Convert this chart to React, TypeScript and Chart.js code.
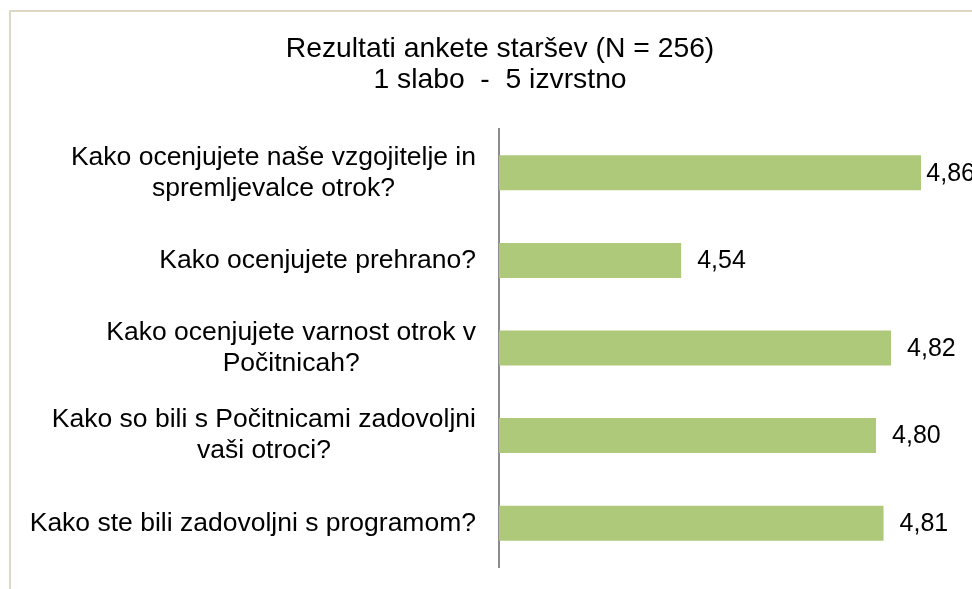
import React, { useEffect, useRef } from "react";
import { Chart, registerables } from "chart.js";

Chart.register(...registerables);

const categories: (string | string[])[] = [
  ["Kako ocenjujete naše vzgojitelje in", "spremljevalce otrok?"],
  "Kako ocenjujete prehrano?",
  ["Kako ocenjujete varnost otrok v", "Počitnicah?"],
  ["Kako so bili s Počitnicami zadovoljni", "vaši otroci?"],
  "Kako ste bili zadovoljni s programom?",
];
const scores = [4.86, 4.54, 4.82, 4.8, 4.81];
const titleLines = ["Rezultati ankete staršev (N = 256)", "1 slabo  -  5 izvrstno"];
const axisMin = 4.297;
const axisMax = 4.9;

const FONT = '"Liberation Sans", Arial, Helvetica, sans-serif';
const BAR_COLOR = "#AFC97B";
const FRAME_COLOR = "#DDD8C4";
const AXIS_COLOR = "#8C8C8C";

const framePlugin = {
  id: "frame",
  beforeDraw(chart: any) {
    const { ctx } = chart;
    ctx.save();
    ctx.fillStyle = "#ffffff";
    ctx.fillRect(0, 0, chart.width, chart.height);
    ctx.strokeStyle = FRAME_COLOR;
    ctx.lineWidth = 2;
    ctx.beginPath();
    ctx.moveTo(10, chart.height);
    ctx.lineTo(10, 11);
    ctx.lineTo(chart.width, 11);
    ctx.stroke();
    ctx.restore();
  },
};

const labelsPlugin = {
  id: "catLabels",
  afterDraw(chart: any) {
    const { ctx, chartArea } = chart;
    const yScale = chart.scales.y;
    ctx.save();
    ctx.font = `26.5px ${FONT}`;
    ctx.fillStyle = "#000";
    ctx.textBaseline = "middle";
    ctx.textAlign = "center";
    const right = chartArea.left - 23;
    categories.forEach((lab, i) => {
      const lines = Array.isArray(lab) ? lab : [lab];
      const py = yScale.getPixelForTick(i);
      const maxW = Math.max(...lines.map((l) => ctx.measureText(l).width));
      const cx = right - maxW / 2;
      lines.forEach((l, j) => {
        ctx.fillText(l, cx, py + (j - (lines.length - 1) / 2) * 31);
      });
    });
    // value labels
    ctx.font = `25px ${FONT}`;
    ctx.textAlign = "left";
    const meta = chart.getDatasetMeta(0);
    meta.data.forEach((bar: any, i: number) => {
      const txt = scores[i].toFixed(2).replace(".", ",");
      const w = ctx.measureText(txt).width;
      const tx = Math.min(bar.x + 16, 975 - w);
      ctx.fillText(txt, tx, bar.y + 1);
    });
    ctx.restore();
  },
};

export default function App() {
  const ref = useRef<HTMLCanvasElement>(null);
  useEffect(() => {
    if (!ref.current) return;
    const chart = new Chart(ref.current, {
      type: "bar",
      data: {
        labels: categories,
        datasets: [
          {
            data: scores,
            backgroundColor: BAR_COLOR,
            borderWidth: 0,
            barPercentage: 0.4,
            categoryPercentage: 1.0,
          },
        ],
      },
      options: {
        indexAxis: "y",
        responsive: false,
        animation: false,
        layout: { padding: { left: 49, right: 49, top: 0, bottom: 33 } },
        plugins: {
          legend: { display: false },
          tooltip: { enabled: false },
          title: {
            display: true,
            text: titleLines,
            color: "#000",
            font: { family: FONT, size: 28.3, weight: "normal", lineHeight: 31 / 28.3 },
            padding: { top: 34, bottom: 33 },
          },
        },
        scales: {
          x: { display: false, min: axisMin, max: axisMax },
          y: {
            display: true,
            grid: { display: false },
            border: { display: true, color: AXIS_COLOR, width: 2 },
            ticks: { display: false },
            afterFit(scale: any) {
              scale.width = 450;
            },
          },
        },
      },
      plugins: [framePlugin, labelsPlugin],
    });
    return () => chart.destroy();
  }, []);
  return (
    <div
      style={{
        position: "fixed",
        left: 0,
        top: 0,
        width: 972,
        height: 589,
        overflow: "hidden",
        background: "#fff",
      }}
    >
      <canvas ref={ref} width={1000} height={600} style={{ display: "block" }} />
    </div>
  );
}
